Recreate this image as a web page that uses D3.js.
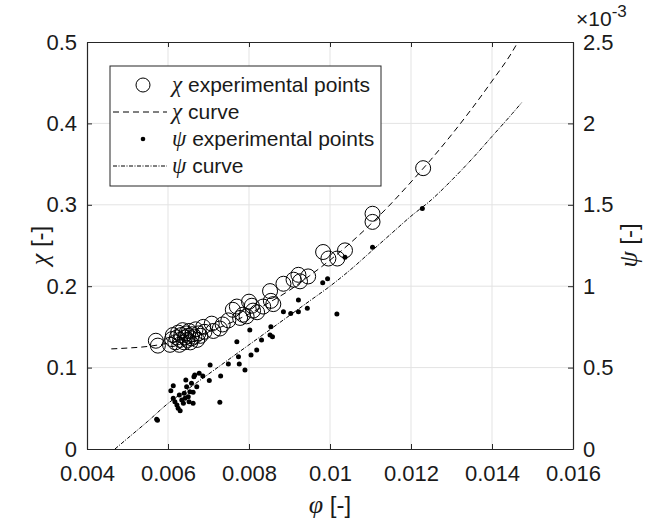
<!DOCTYPE html>
<html>
<head>
<meta charset="utf-8">
<script src="https://cdn.jsdelivr.net/npm/d3@7"></script>
<style>
  body { margin: 0; background: #fff; }
  text { font-family: "Liberation Sans", Arial, sans-serif; fill: #1a1a1a; }
  .greek { font-family: "Liberation Serif", "DejaVu Serif", serif; font-style: italic; }
</style>
</head>
<body>
<div id="chart"></div>
<script>
// chi experimental points [phi, chi]
var chiPoints = [
  [0.00570, 0.133], [0.00575, 0.127],
  [0.00605, 0.128], [0.00610, 0.135], [0.00612, 0.140], [0.00618, 0.131],
  [0.00622, 0.137], [0.00625, 0.143], [0.00628, 0.128], [0.00630, 0.134],
  [0.00633, 0.140], [0.00636, 0.146], [0.00640, 0.131], [0.00642, 0.137],
  [0.00645, 0.142], [0.00648, 0.134], [0.00650, 0.139], [0.00652, 0.145],
  [0.00655, 0.131], [0.00658, 0.136], [0.00660, 0.141], [0.00665, 0.138],
  [0.00668, 0.147], [0.00672, 0.134], [0.00675, 0.142], [0.00680, 0.139],
  [0.00687, 0.150], [0.00690, 0.144],
  [0.00708, 0.154], [0.00712, 0.145], [0.00728, 0.148], [0.00735, 0.153],
  [0.00749, 0.158], [0.00760, 0.171], [0.00770, 0.175], [0.00778, 0.161],
  [0.00785, 0.165], [0.00794, 0.163], [0.00800, 0.181], [0.00807, 0.176],
  [0.00810, 0.170], [0.00820, 0.168], [0.00835, 0.175], [0.00852, 0.194],
  [0.00854, 0.182], [0.00860, 0.178], [0.00885, 0.203], [0.00910, 0.208],
  [0.00922, 0.214], [0.00926, 0.206], [0.00946, 0.212], [0.00983, 0.242],
  [0.00996, 0.234], [0.01018, 0.234], [0.01037, 0.244], [0.01105, 0.289],
  [0.01105, 0.279], [0.01230, 0.345]
];

// chi fitted curve [phi, chi]
var chiCurve = [
  [0.0046, 0.123], [0.0050, 0.124], [0.0055, 0.126], [0.0060, 0.130],
  [0.0065, 0.136], [0.0070, 0.144], [0.0075, 0.154], [0.0080, 0.166],
  [0.0085, 0.180], [0.0090, 0.195], [0.0095, 0.213], [0.0100, 0.232],
  [0.0105, 0.253], [0.0110, 0.276], [0.0115, 0.301], [0.0120, 0.328],
  [0.0125, 0.356], [0.0130, 0.386], [0.0135, 0.418], [0.0140, 0.452],
  [0.0145, 0.488], [0.01464, 0.500]
];

// psi experimental points [phi, psi*1e3]
var psiPoints = [
  [0.00572, 0.182], [0.00574, 0.176],
  [0.00607, 0.358], [0.00613, 0.389], [0.00613, 0.311], [0.00617, 0.291],
  [0.00622, 0.270], [0.00625, 0.250], [0.00630, 0.235], [0.00628, 0.332],
  [0.00634, 0.301], [0.00638, 0.281], [0.00642, 0.311], [0.00640, 0.342],
  [0.00646, 0.383], [0.00644, 0.424], [0.00650, 0.321], [0.00654, 0.352],
  [0.00652, 0.291], [0.00658, 0.404], [0.00664, 0.444], [0.00662, 0.348],
  [0.00666, 0.455], [0.00662, 0.281], [0.00671, 0.383], [0.00677, 0.465],
  [0.00686, 0.448], [0.00702, 0.420], [0.00704, 0.516], [0.00730, 0.448],
  [0.00728, 0.287], [0.00749, 0.522], [0.00776, 0.522], [0.00774, 0.567],
  [0.00770, 0.659], [0.00790, 0.485], [0.00802, 0.731], [0.00805, 0.577],
  [0.00819, 0.608], [0.00831, 0.670], [0.00852, 0.700], [0.00854, 0.751],
  [0.00858, 0.690], [0.00885, 0.843], [0.00903, 0.833], [0.00922, 0.843],
  [0.00922, 0.915], [0.00944, 0.864], [0.00982, 1.021], [0.00994, 1.046],
  [0.01017, 0.829], [0.01037, 1.178], [0.01105, 1.239], [0.01228, 1.478]
];

// psi fitted curve [phi, psi*1e3]
var psiCurve = [
  [0.00469, 0.000], [0.0050, 0.065], [0.0055, 0.170], [0.0060, 0.280],
  [0.0065, 0.370], [0.0070, 0.460], [0.0075, 0.550], [0.0080, 0.640],
  [0.0085, 0.730], [0.0090, 0.820], [0.0095, 0.910], [0.0100, 1.000],
  [0.0105, 1.100], [0.0110, 1.210], [0.0115, 1.320], [0.0120, 1.430],
  [0.0125, 1.530], [0.0130, 1.650], [0.0135, 1.780], [0.0140, 1.920],
  [0.0145, 2.060], [0.01474, 2.130]
];

var xTicks = [0.004, 0.006, 0.008, 0.010, 0.012, 0.014, 0.016];
var xTickLabels = ["0.004", "0.006", "0.008", "0.01", "0.012", "0.014", "0.016"];
var yLeftTicks = [0, 0.1, 0.2, 0.3, 0.4, 0.5];
var yRightTicks = [0, 0.5, 1, 1.5, 2, 2.5];

var svgWidth = 651, svgHeight = 524;
var margin = { top: 42, right: 78, bottom: 75, left: 87 };
var chartWidth = svgWidth - margin.left - margin.right;
var chartHeight = svgHeight - margin.top - margin.bottom;

var svg = d3.select("#chart").append("svg")
  .attr("width", svgWidth)
  .attr("height", svgHeight);

var g = svg.append("g")
  .attr("transform", `translate(${margin.left}, ${margin.top})`);

var xScale = d3.scaleLinear().domain([0.004, 0.016]).range([0, chartWidth]);
var yLeft = d3.scaleLinear().domain([0, 0.5]).range([chartHeight, 0]);
var yRight = d3.scaleLinear().domain([0, 2.5]).range([chartHeight, 0]);

// grid
g.selectAll(".vgrid").data(xTicks.slice(1, -1)).enter().append("line")
  .attr("x1", d => xScale(d)).attr("x2", d => xScale(d))
  .attr("y1", 0).attr("y2", chartHeight)
  .attr("stroke", "#e3e3e3").attr("stroke-width", 1);
g.selectAll(".hgrid").data(yLeftTicks.slice(1, -1)).enter().append("line")
  .attr("x1", 0).attr("x2", chartWidth)
  .attr("y1", d => yLeft(d)).attr("y2", d => yLeft(d))
  .attr("stroke", "#e3e3e3").attr("stroke-width", 1);

// axes (ticks inward, box)
var tickLen = 5;
var xAxis = d3.axisBottom(xScale).tickValues(xTicks)
  .tickFormat((d, i) => xTickLabels[i]).tickSizeInner(-tickLen).tickSizeOuter(0).tickPadding(16);
var xAxisTop = d3.axisTop(xScale).tickValues(xTicks).tickFormat("").tickSizeInner(-tickLen).tickSizeOuter(0);
var yAxisL = d3.axisLeft(yLeft).tickValues(yLeftTicks)
  .tickFormat(d3.format("")).tickSizeInner(-tickLen).tickSizeOuter(0).tickPadding(10);
var yAxisR = d3.axisRight(yRight).tickValues(yRightTicks)
  .tickFormat(d3.format("")).tickSizeInner(-tickLen).tickSizeOuter(0).tickPadding(10);

function styleAxis(sel) {
  sel.select(".domain").attr("stroke", "#262626").attr("stroke-width", 1.2);
  sel.selectAll(".tick line").attr("stroke", "#262626");
  sel.selectAll(".tick text").attr("font-size", 22)
    .attr("font-family", "Liberation Sans, Arial, sans-serif").attr("fill", "#1a1a1a");
}

g.append("g").attr("transform", `translate(0, ${chartHeight})`).call(xAxis).call(styleAxis);
g.append("g").call(xAxisTop).call(styleAxis);
g.append("g").call(yAxisL).call(styleAxis);
g.append("g").attr("transform", `translate(${chartWidth}, 0)`).call(yAxisR).call(styleAxis);

// curves
var chiLine = d3.line().x(d => xScale(d[0])).y(d => yLeft(d[1])).curve(d3.curveMonotoneX);
var psiLine = d3.line().x(d => xScale(d[0])).y(d => yRight(d[1])).curve(d3.curveMonotoneX);

g.append("path").datum(chiCurve)
  .attr("d", chiLine).attr("fill", "none")
  .attr("stroke", "#000").attr("stroke-width", 1)
  .attr("stroke-dasharray", "6,4");
g.append("path").datum(psiCurve)
  .attr("d", psiLine).attr("fill", "none")
  .attr("stroke", "#000").attr("stroke-width", 1)
  .attr("stroke-dasharray", "4,1.5,1,1.5");

// chi circles
g.selectAll(".chi").data(chiPoints).enter().append("circle")
  .attr("cx", d => xScale(d[0])).attr("cy", d => yLeft(d[1]))
  .attr("r", 7.5).attr("fill", "none")
  .attr("stroke", "#000").attr("stroke-width", 1);

// psi dots
g.selectAll(".psi").data(psiPoints).enter().append("circle")
  .attr("cx", d => xScale(d[0])).attr("cy", d => yRight(d[1]))
  .attr("r", 2.5).attr("fill", "#000");

// x10^-3 exponent
var expo = svg.append("text").attr("x", 576).attr("y", 26).attr("font-size", 21);
expo.append("tspan").text("\u00d7");
expo.append("tspan").text("10");
expo.append("tspan").attr("font-size", 17).attr("dy", -9).text("-3");

// axis labels
function axisLabel(sel, greek) {
  sel.append("tspan").attr("class", "greek").attr("font-size", 26).text(greek);
  sel.append("tspan").text(" [-]");
}
var xl = svg.append("text").attr("x", margin.left + chartWidth / 2).attr("y", 513)
  .attr("text-anchor", "middle").attr("font-size", 24);
axisLabel(xl, "\u03c6");

var yl = svg.append("text")
  .attr("transform", `translate(48, ${margin.top + chartHeight / 2}) rotate(-90)`)
  .attr("text-anchor", "middle").attr("font-size", 24);
axisLabel(yl, "\u03c7");

var yr = svg.append("text")
  .attr("transform", `translate(637, ${margin.top + chartHeight / 2}) rotate(-90)`)
  .attr("text-anchor", "middle").attr("font-size", 24);
axisLabel(yr, "\u03c8");

// legend
var legendItems = [
  { greek: "\u03c7", label: " experimental points", type: "circle" },
  { greek: "\u03c7", label: " curve", type: "dash" },
  { greek: "\u03c8", label: " experimental points", type: "dot" },
  { greek: "\u03c8", label: " curve", type: "dashdot" }
];
var lg = svg.append("g");
lg.append("rect").attr("x", 110).attr("y", 66).attr("width", 271).attr("height", 120)
  .attr("fill", "#fff").attr("stroke", "#262626").attr("stroke-width", 1);
var rowY = [85, 112, 139, 166];
legendItems.forEach(function(it, i) {
  var y = rowY[i];
  if (it.type === "circle") {
    lg.append("circle").attr("cx", 143).attr("cy", y).attr("r", 7)
      .attr("fill", "none").attr("stroke", "#000");
  } else if (it.type === "dot") {
    lg.append("circle").attr("cx", 143).attr("cy", y).attr("r", 2.3).attr("fill", "#000");
  } else {
    lg.append("line").attr("x1", 113).attr("x2", 167).attr("y1", y).attr("y2", y)
      .attr("stroke", "#000").attr("stroke-width", 1)
      .attr("stroke-dasharray", it.type === "dash" ? "6,4" : "4,1.5,1,1.5");
  }
  var t = lg.append("text").attr("x", 172).attr("y", y + 7).attr("font-size", 21);
  t.append("tspan").attr("class", "greek").attr("font-size", 23).text(it.greek);
  t.append("tspan").text(it.label);
});
</script>
</body>
</html>
